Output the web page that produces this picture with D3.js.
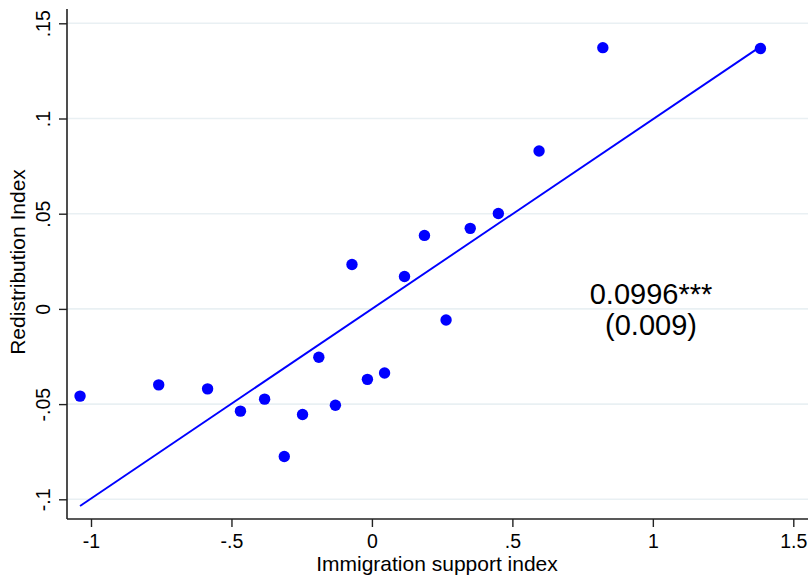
<!DOCTYPE html>
<html>
<head>
<meta charset="utf-8">
<script src="https://cdn.jsdelivr.net/npm/d3@7"></script>
<style>
  html, body { margin: 0; padding: 0; background: #fff; }
  svg { display: block; font-family: "Liberation Sans", Arial, Helvetica, sans-serif; }
</style>
</head>
<body>
<svg id="chart" width="810" height="577"></svg>
<script>
// ---- data ----
const immigrationSupport = [-1.039, -0.759, -0.585, -0.468, -0.382, -0.312, -0.247, -0.189, -0.130, -0.071,
                            -0.016, 0.045, 0.116, 0.187, 0.264, 0.350, 0.450, 0.595, 0.822, 1.383];
const redistribution =     [-0.0458, -0.0399, -0.0420, -0.0537, -0.0474, -0.0775, -0.0555, -0.0254, -0.0506, 0.0233,
                            -0.0370, -0.0337, 0.0170, 0.0386, -0.0058, 0.0423, 0.0501, 0.0829, 0.1372, 0.1368];
const fitSlope = 0.0996;
const fitIntercept = 0.0;
const annotationLines = ["0.0996***", "(0.009)"];
const xTickValues = [-1, -0.5, 0, 0.5, 1, 1.5];
const xTickLabels = ["-1", "-.5", "0", ".5", "1", "1.5"];
const yTickValues = [-0.1, -0.05, 0, 0.05, 0.1, 0.15];
const yTickLabels = ["-.1", "-.05", "0", ".05", ".1", ".15"];
const xTitle = "Immigration support index";
const yTitle = "Redistribution Index";

// ---- layout ----
const plotLeft = 67, plotRight = 808, plotTop = 9, plotBottom = 519;
const blue = "#0000ff";

const svg = d3.select("#chart");

const x = d3.scaleLinear().domain([-1, 1.5]).range([91, 793.3]);
const y = d3.scaleLinear().domain([-0.1, 0.15]).range([499.3, 23.3]);

// gridlines
svg.append("g").selectAll("line").data(yTickValues).join("line")
  .attr("x1", plotLeft).attr("x2", plotRight)
  .attr("y1", d => y(d)).attr("y2", d => y(d))
  .attr("stroke", "#e9f0f3").attr("stroke-width", 1.6);

// x axis
const xAxis = svg.append("g").attr("transform", `translate(0,${plotBottom})`)
  .call(d3.axisBottom(x).tickValues(xTickValues)
        .tickFormat((d, i) => xTickLabels[i]).tickSize(8).tickSizeOuter(0));
xAxis.select(".domain").remove();
xAxis.selectAll(".tick line").attr("stroke", "#222").attr("stroke-width", 1.4);
xAxis.selectAll(".tick text").attr("y", 29).attr("dy", 0)
  .attr("font-size", 19.5).attr("fill", "#000").attr("font-family", null);
xAxis.append("line").attr("x1", plotLeft).attr("x2", plotRight)
  .attr("y1", 0).attr("y2", 0).attr("stroke", "#222").attr("stroke-width", 1.6);

// y axis
const yAxis = svg.append("g").attr("transform", `translate(${plotLeft},0)`)
  .call(d3.axisLeft(y).tickValues(yTickValues)
        .tickFormat((d, i) => yTickLabels[i]).tickSize(8).tickSizeOuter(0));
yAxis.select(".domain").remove();
yAxis.selectAll(".tick line").attr("stroke", "#222").attr("stroke-width", 1.4);
yAxis.selectAll(".tick text")
  .attr("x", 0).attr("y", 0).attr("dy", 0)
  .attr("transform", "translate(-17,0) rotate(-90)")
  .attr("text-anchor", "middle")
  .attr("font-size", 19.5).attr("fill", "#000").attr("font-family", null);
yAxis.append("line").attr("x1", 0).attr("x2", 0)
  .attr("y1", plotTop).attr("y2", plotBottom).attr("stroke", "#222").attr("stroke-width", 1.6);

// axis titles
svg.append("text").attr("x", 437).attr("y", 571)
  .attr("text-anchor", "middle").attr("font-size", 21).text(xTitle);
svg.append("text").attr("transform", "translate(25,262) rotate(-90)")
  .attr("text-anchor", "middle").attr("font-size", 21).text(yTitle);

// fitted line
const xMin = d3.min(immigrationSupport), xMax = d3.max(immigrationSupport);
svg.append("line")
  .attr("x1", x(xMin)).attr("y1", y(fitIntercept + fitSlope * xMin))
  .attr("x2", x(xMax)).attr("y2", y(fitIntercept + fitSlope * xMax))
  .attr("stroke", blue).attr("stroke-width", 1.9);

// points
svg.append("g").selectAll("circle").data(immigrationSupport).join("circle")
  .attr("cx", d => x(d)).attr("cy", (d, i) => y(redistribution[i]))
  .attr("r", 5.7).attr("fill", blue);

// annotation
svg.append("g").selectAll("text").data(annotationLines).join("text")
  .attr("x", 651).attr("y", (d, i) => 304 + i * 31)
  .attr("text-anchor", "middle").attr("font-size", 29).text(d => d);
</script>
</body>
</html>
